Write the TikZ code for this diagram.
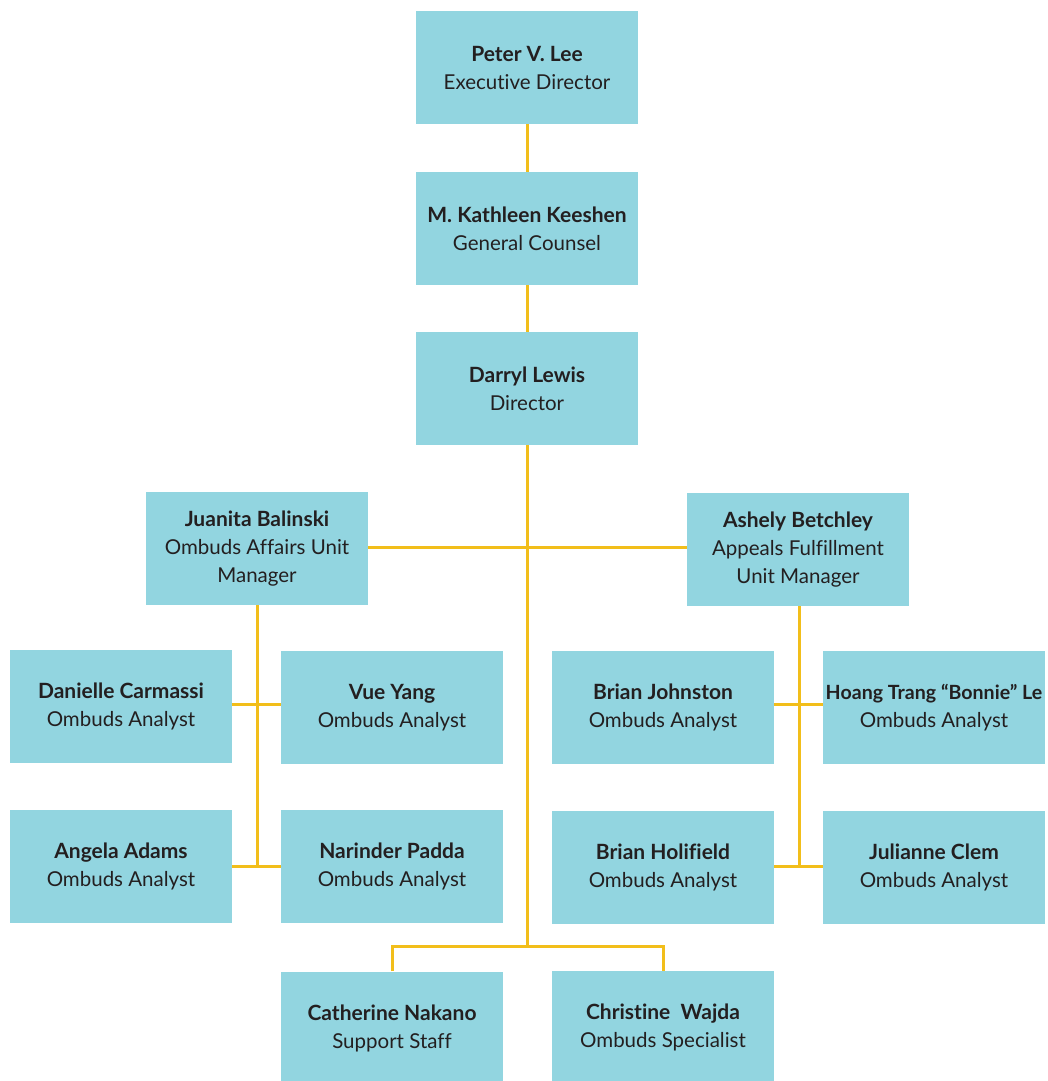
\documentclass[tikz,border=0pt]{standalone}
\usepackage{fontspec}
\setmainfont[Ligatures=NoCommon]{Lato}
\definecolor{boxc}{HTML}{92D5E0}
\definecolor{linec}{HTML}{F2BE1A}
\definecolor{txt}{HTML}{231F20}
\newcommand{\nm}[1]{{\fontsize{21}{28}\selectfont\bfseries #1}}
\begin{document}
\begin{tikzpicture}[x=1pt,y=-1pt,
  box/.style={fill=boxc, minimum width=222pt, minimum height=113pt, inner sep=0pt, align=center, text=txt, font=\fontsize{20.5}{28}\selectfont},
  conn/.style={draw=linec, line width=3pt}]
\useasboundingbox (0,0) rectangle (1048,1081);
\node[box] (peter) at (527,67.5) {\nm{Peter V. Lee}\\Executive Director};
\node[box] (kath) at (527,228.5) {\nm{M. Kathleen Keeshen}\\General Counsel};
\node[box] (darryl) at (527,388.5) {\nm{Darryl Lewis}\\Director};
\node[box] (juan) at (257,548.5) {\nm{Juanita Balinski}\\Ombuds Affairs Unit\\Manager};
\node[box] (ash) at (798,549.5) {\nm{Ashely Betchley}\\Appeals Fulfillment\\Unit Manager};
\node[box] (dan) at (121,706.5) {\nm{Danielle Carmassi}\\Ombuds Analyst};
\node[box] (vue) at (392,707.5) {\nm{Vue Yang}\\Ombuds Analyst};
\node[box] (bj) at (663,707.5) {\nm{Brian Johnston}\\Ombuds Analyst};
\node[box] (hoang) at (934,707.5) {{\fontsize{19.6}{28}\selectfont\bfseries Hoang Trang “Bonnie” Le}\\Ombuds Analyst};
\node[box] (ang) at (121,866.5) {\nm{Angela Adams}\\Ombuds Analyst};
\node[box] (nar) at (392,866.5) {\nm{Narinder Padda}\\Ombuds Analyst};
\node[box] (bh) at (663,867.5) {\nm{Brian Holifield}\\Ombuds Analyst};
\node[box] (jul) at (934,867.5) {\nm{Julianne Clem}\\Ombuds Analyst};
\node[box] (cath) at (392,1028) {\nm{Catherine Nakano}\\Support Staff};
\node[box] (chris) at (663,1027.5) {\nm{Christine\ \ Wajda}\\Ombuds Specialist};
\coordinate (bjoin) at (527,946);
\coordinate (ljoin) at (257,866);
\coordinate (rjoin) at (799,866);
\draw[conn] (peter.south) -- (kath.north);
\draw[conn] (kath.south) -- (darryl.north);
\draw[conn] (darryl.south) -- (bjoin);
\draw[conn] (juan.east |- 0,547) -- (ash.west |- 0,547);
\draw[conn] (cath.north) |- (bjoin) -| (chris.north);
\draw[conn] (juan.south) -- (ljoin);
\draw[conn] (dan.east |- 0,704) -- (vue.west |- 0,704);
\draw[conn] (ang.east |- ljoin) -- (nar.west |- ljoin);
\draw[conn] (ash.south -| rjoin) -- (rjoin);
\draw[conn] (bj.east |- 0,704) -- (hoang.west |- 0,704);
\draw[conn] (bh.east |- rjoin) -- (jul.west |- rjoin);
\end{tikzpicture}
\end{document}
